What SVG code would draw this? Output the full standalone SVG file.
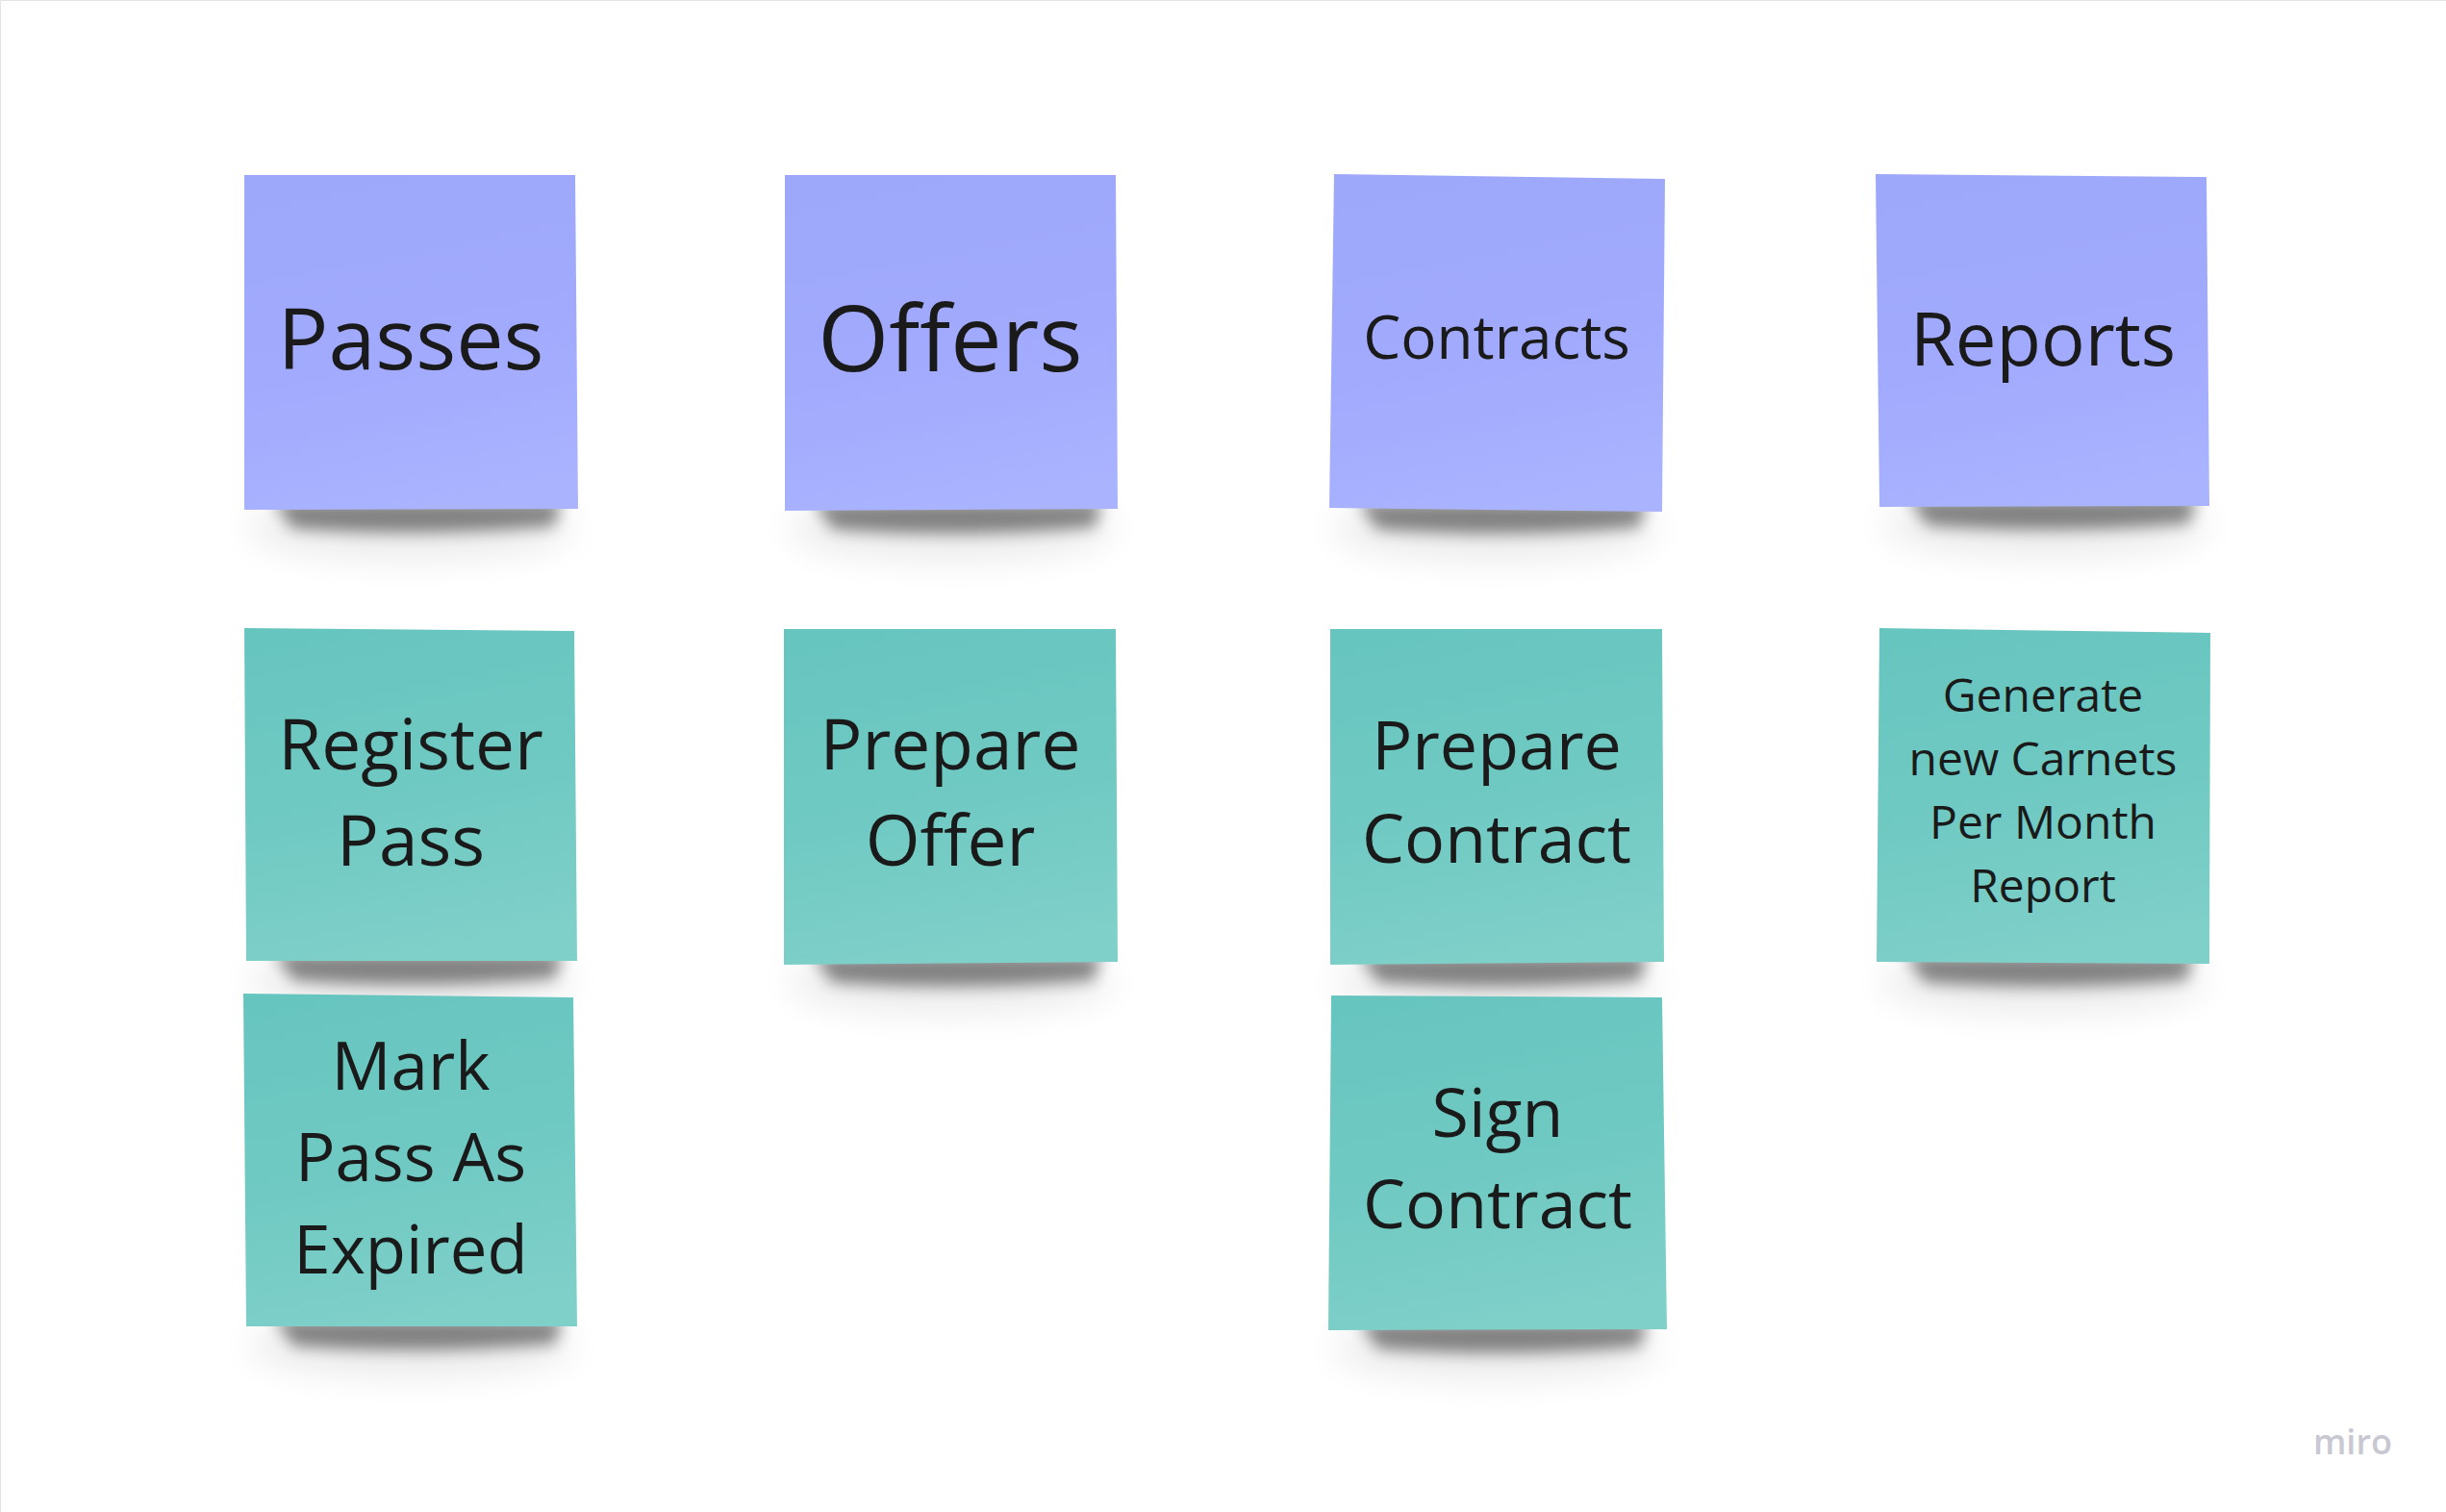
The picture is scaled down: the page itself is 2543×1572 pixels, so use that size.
<svg xmlns="http://www.w3.org/2000/svg" xmlns:xlink="http://www.w3.org/1999/xlink" width="2543" height="1572" viewBox="0 0 2543 1572">
  <style>
    .lbl { font-family: "Open Sans", "Noto Sans", "Liberation Sans", sans-serif; fill: #1a1a1a; text-anchor: middle; }
    .violet { fill: url(#gViolet); }
    .cyan { fill: url(#gCyan); }
    .logo { font-family: "Open Sans", "Noto Sans", sans-serif; font-weight: 600; fill: #c8c8d2; font-size: 36px; }
  </style>
  <defs>
    <linearGradient id="gViolet" x1="0.3" y1="0" x2="0.5" y2="1">
      <stop offset="0" stop-color="#9ea8fa"/>
      <stop offset="0.55" stop-color="#a1aafd"/>
      <stop offset="1" stop-color="#aab3fe"/>
    </linearGradient>
    <linearGradient id="gCyan" x1="0.3" y1="0" x2="0.5" y2="1">
      <stop offset="0" stop-color="#67c5bf"/>
      <stop offset="0.55" stop-color="#70cac3"/>
      <stop offset="1" stop-color="#7fd0c9"/>
    </linearGradient>
    <filter id="blurDark" x="-20%" y="-200%" width="140%" height="500%">
      <feGaussianBlur stdDeviation="8"/>
    </filter>
    <filter id="blurSoft" x="-30%" y="-300%" width="160%" height="700%">
      <feGaussianBlur stdDeviation="18"/>
    </filter>
    <g id="shadow">
      <ellipse cx="173" cy="20" rx="170" ry="32" fill="#000" opacity="0.08" filter="url(#blurSoft)"/>
      <path d="M 30,-8 L 330,-8 L 322,18 Q 180,30 50,20 Z" fill="#000" opacity="0.45" filter="url(#blurDark)"/>
    </g>
  </defs>

  <rect x="0" y="0" width="2543" height="1572" fill="#ffffff"/>
  <path d="M 0.5,1572 L 0.5,0.5 L 2543,0.5" fill="none" stroke="#e3e3e3" stroke-width="1"/>

  <g id="connectors"></g>

  <g id="note-passes">
    <use xlink:href="#shadow" x="254" y="529"/>
    <polygon class="violet" points="254,182 598,182 601,529 254,530"/>
    <text class="lbl" x="427" y="384" font-size="88">Passes</text>
  </g>

  <g id="note-offers">
    <use xlink:href="#shadow" x="816" y="530"/>
    <polygon class="violet" points="816,182 1160,182 1162,529 816,531"/>
    <text class="lbl" x="988" y="386" font-size="95">Offers</text>
  </g>

  <g id="note-contracts">
    <use xlink:href="#shadow" x="1382" y="530"/>
    <polygon class="violet" points="1387,181 1731,186 1728,532 1382,528"/>
    <text class="lbl" x="1556" y="373" font-size="62">Contracts</text>
  </g>

  <g id="note-reports">
    <use xlink:href="#shadow" x="1954" y="526"/>
    <polygon class="violet" points="1950,181 2294,184 2297,526 1954,527"/>
    <text class="lbl" x="2124" y="380" font-size="76">Reports</text>
  </g>

  <g id="note-register-pass">
    <use xlink:href="#shadow" x="255" y="999"/>
    <polygon class="cyan" points="254,653 597,656 600,999 256,999"/>
    <text class="lbl" x="427" y="800" font-size="73">Register</text>
    <text class="lbl" x="427" y="900" font-size="73">Pass</text>
  </g>

  <g id="note-prepare-offer">
    <use xlink:href="#shadow" x="815" y="1001"/>
    <polygon class="cyan" points="815,654 1160,654 1162,1000 815,1003"/>
    <text class="lbl" x="988" y="800" font-size="73">Prepare</text>
    <text class="lbl" x="988" y="900" font-size="73">Offer</text>
  </g>

  <g id="note-prepare-contract">
    <use xlink:href="#shadow" x="1383" y="1001"/>
    <polygon class="cyan" points="1383,654 1728,654 1730,1000 1383,1003"/>
    <text class="lbl" x="1556" y="800" font-size="70">Prepare</text>
    <text class="lbl" x="1556" y="897" font-size="70">Contract</text>
  </g>

  <g id="note-generate-report">
    <use xlink:href="#shadow" x="1951" y="1001"/>
    <polygon class="cyan" points="1954,653 2298,658 2297,1002 1951,1000"/>
    <text class="lbl" x="2124" y="740" font-size="48">Generate</text>
    <text class="lbl" x="2124" y="806" font-size="48">new Carnets</text>
    <text class="lbl" x="2124" y="872" font-size="48">Per Month</text>
    <text class="lbl" x="2124" y="938" font-size="48">Report</text>
  </g>

  <g id="note-mark-expired">
    <use xlink:href="#shadow" x="255" y="1379"/>
    <polygon class="cyan" points="253,1033 596,1037 600,1379 256,1379"/>
    <text class="lbl" x="427" y="1133" font-size="69">Mark</text>
    <text class="lbl" x="427" y="1228" font-size="69">Pass As</text>
    <text class="lbl" x="427" y="1324" font-size="69">Expired</text>
  </g>

  <g id="note-sign-contract">
    <use xlink:href="#shadow" x="1383" y="1382"/>
    <polygon class="cyan" points="1384,1035 1728,1037 1733,1382 1381,1383"/>
    <text class="lbl" x="1557" y="1182" font-size="70">Sign</text>
    <text class="lbl" x="1557" y="1277" font-size="70">Contract</text>
  </g>

  <text class="logo" x="2405" y="1512">miro</text>
</svg>
